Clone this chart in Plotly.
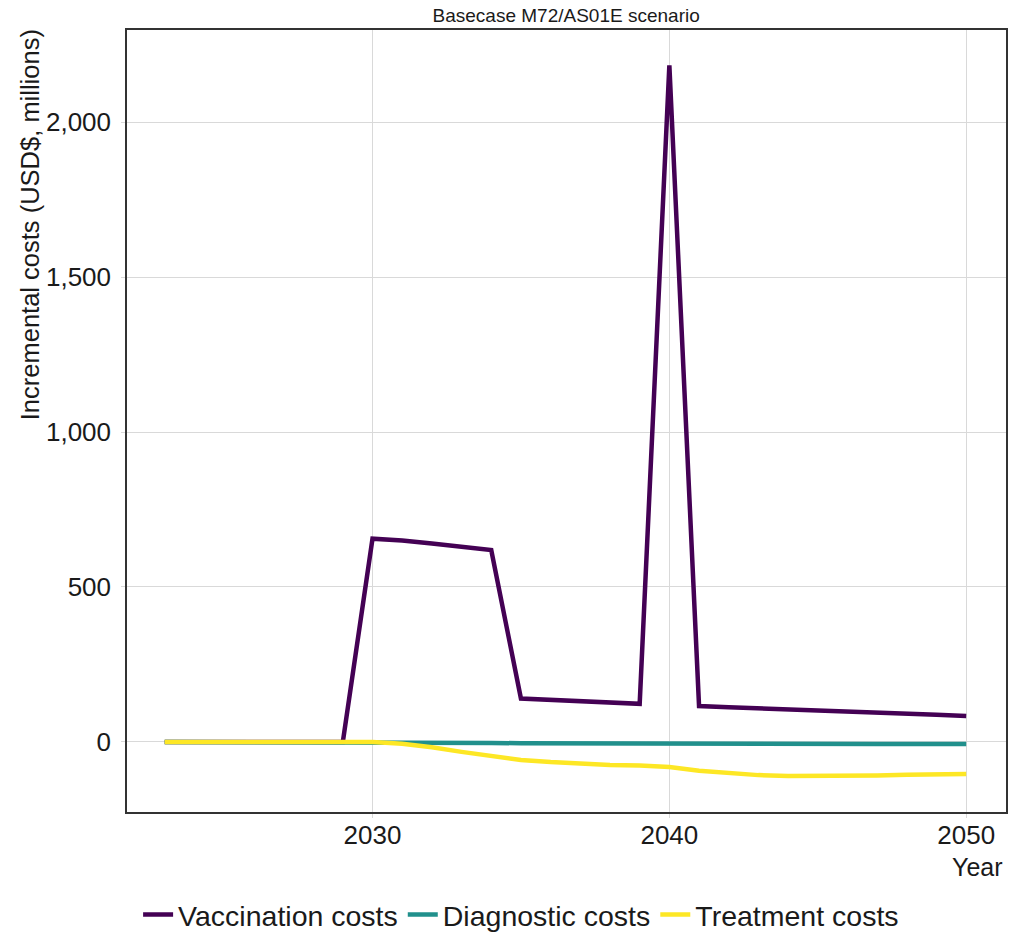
import plotly.graph_objects as go

years = list(range(2023, 2051))
vaccination = [0, 0, 0, 0, 0, 0, 0,
               656, 650, 640, 630, 619,
               140, 136, 132, 127, 123,
               2183,
               116, 112, 109, 105, 102, 98, 95, 92, 88, 84]
diagnostic = [0, 0, 0, 0, 0, 0, 0,
              0, -1, -2, -3, -3.5, -4, -4.5, -5, -5, -5.5,
              -6, -6, -6, -6.5, -6.5, -6.5, -7, -7, -7, -7, -7]
treatment = [0, 0, 0, 0, 0, 0, 0,
             0, -6, -17, -32, -46, -58, -65, -70, -74, -76,
             -81, -93, -101, -107, -110, -110, -109, -108, -106, -105, -103]

series = [("Vaccination costs", vaccination, "#440154"),
          ("Diagnostic costs", diagnostic, "#21908C"),
          ("Treatment costs", treatment, "#FDE725")]

W, H = 1011, 935
L, R, T, B = 127, 3, 30, 123
pw = W - L - R
ph = H - T - B

font = "Liberation Sans, Arial, sans-serif"
fig = go.Figure()
for name, vals, col in series:
    fig.add_trace(go.Scatter(x=years, y=vals, mode="lines", name=name,
                             line=dict(color=col, width=4.5)))

fig.update_layout(
    width=W, height=H,
    margin=dict(l=L, r=R, t=T, b=B),
    paper_bgcolor="white", plot_bgcolor="white",
    font=dict(family=font, color="black"),
    title=dict(text="Basecase M72/AS01E scenario", x=0.56, xanchor="center",
               y=1 - 15 / H, yanchor="middle", font=dict(size=19, color="#1a1a1a")),
    showlegend=True,
    legend=dict(orientation="h", x=(522 - L) / pw, xanchor="center",
                yref="container", y=1 - 915 / H, yanchor="middle",
                font=dict(size=28.5, color="#1a1a1a"), itemwidth=30, tracegroupgap=0),
)
fig.update_xaxes(range=[2021.73, 2051.34], tickvals=[2030, 2040, 2050],
                 showgrid=True, gridcolor="#d9d9d9", gridwidth=1.3,
                 showline=True, linecolor="#333333", linewidth=1.5, mirror=True,
                 ticks="outside", ticklen=4, tickcolor="#d9d9d9",
                 ticklabelstandoff=-5,
                 tickfont=dict(size=26, color="#1a1a1a"), zeroline=False)
fig.update_yaxes(range=[-226, 2297], tickvals=[0, 500, 1000, 1500, 2000],
                 tickformat=",d",
                 showgrid=True, gridcolor="#d9d9d9", gridwidth=1.3,
                 showline=True, linecolor="#333333", linewidth=1.5, mirror=True,
                 ticks="outside", ticklen=4, tickcolor="#d9d9d9",
                 ticklabelstandoff=5,
                 tickfont=dict(size=26, color="#1a1a1a"), zeroline=False)
fig.add_annotation(text="Incremental costs (USD$, millions)", textangle=-90,
                   xref="paper", yref="paper",
                   x=(30 - L) / pw, xanchor="center",
                   y=(H - B - 225) / ph, yanchor="middle",
                   showarrow=False, font=dict(size=25.5, color="#1a1a1a"))
fig.add_annotation(text="Year", xref="paper", yref="paper", x=(1007 - L) / pw, xanchor="right",
                   y=-(867 - (H - B)) / ph, yanchor="middle", showarrow=False,
                   font=dict(size=25, color="#1a1a1a"))
fig.write_html("out.html")
